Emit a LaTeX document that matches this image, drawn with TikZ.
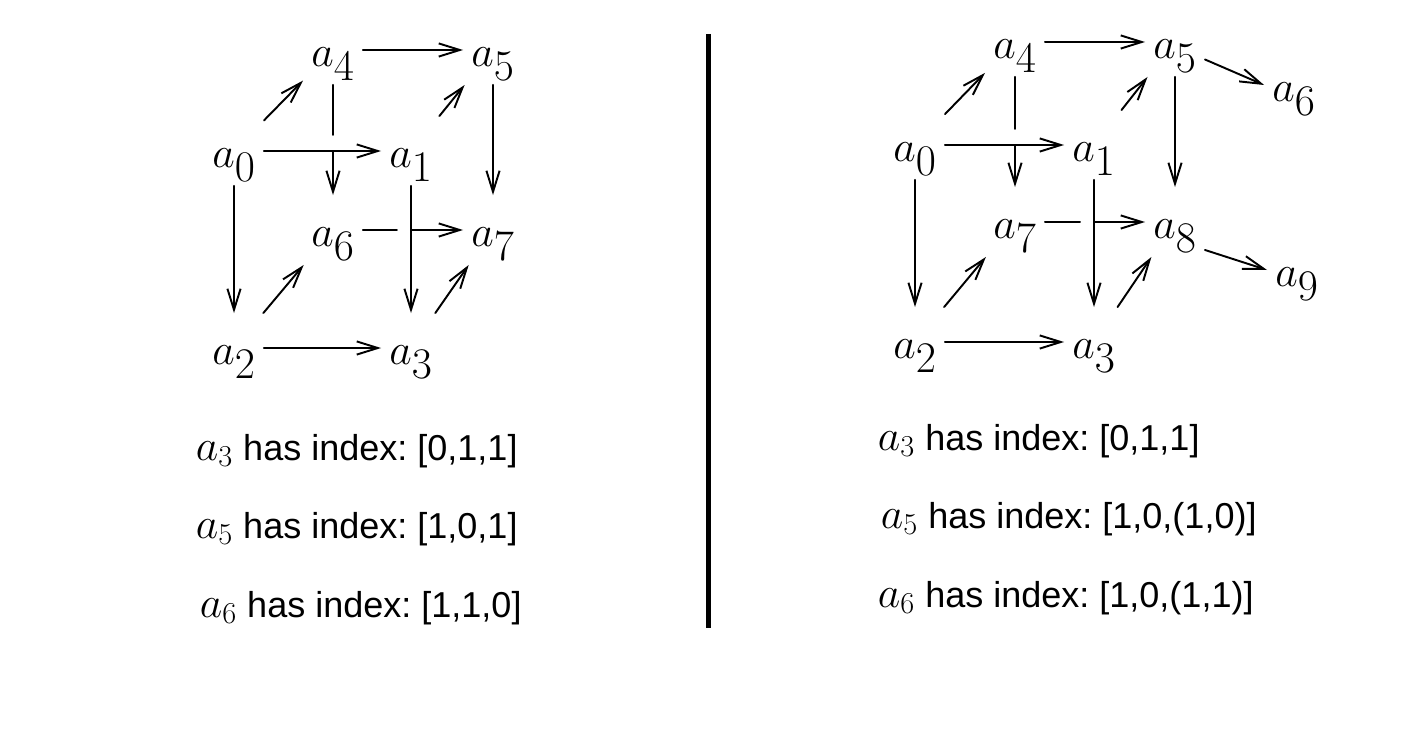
\documentclass[tikz,border=0pt]{standalone}
\usepackage[no-math]{fontspec}
\newfontfamily\arialfont{Liberation Sans}
\usetikzlibrary{arrows.meta,calc}
\newcommand\idxa[1]{{\fontsize{26}{30}\selectfont$a_{#1}$}}
\frenchspacing
\tikzset{
	vert/.style={inner sep=0pt, minimum width=1.16cm, minimum height=1.36cm, text height=23.3pt, text depth=4pt, font=\fontsize{34}{40}\selectfont},
	arr/.style={-{Straight Barb[length=12pt,width=7.5pt]}},
	idx/.style={anchor=base west, inner sep=0pt, font=\fontsize{20.5}{25}\selectfont\arialfont}
}
\begin{document}
\begin{tikzpicture}[x=0.02cm, y=-0.02cm, line join=round, line cap=round, line width=1.1pt]
	\useasboundingbox (0,0) rectangle (1402,753);
	% left cube
	\foreach \n/\x/\y in {0/234/151,1/411/151,2/234/348,3/411/348,4/333/50,5/493/50,6/333/230,7/493/230}{\node[vert] (l\n) at (\x,\y) {$a_\n$};}
	\coordinate (l46) at (l4 |- l0);
	\coordinate (l67) at (l1 |- l6);
	\draw[arr] (l0)--(l1);
	\draw[arr] (l0)--(l2);
	\draw[arr] (l2)--(l3);
	\draw[arr] (l1)--(l3);
	\draw[arr] (l0)--(l4);
	\draw[arr] (l4)--(l5);
	\draw[arr] (l1)--(l5);
	\draw[arr] (l5)--(l7);
	\draw[arr] (l2)--(l6);
	\draw[arr] (l3)--(l7);
	\draw (l4)--($(l46)+(0,-16)$);
	\draw[arr] (l46)--(l6);
	\draw (l6)--($(l67)+(-14,0)$);
	\draw[arr] (l67)--(l7);
	% right cube
	\foreach \n/\x/\y in {0/915/145,1/1094/145,2/915/342,3/1094/342,4/1015/42,5/1175/42,6/1294/85,7/1015/222,8/1175/222,9/1297/270}{\node[vert] (r\n) at (\x,\y) {$a_\n$};}
	\coordinate (r47) at (r4 |- r0);
	\coordinate (r78) at (r1 |- r7);
	\draw[arr] (r0)--(r1);
	\draw[arr] (r0)--(r2);
	\draw[arr] (r2)--(r3);
	\draw[arr] (r1)--(r3);
	\draw[arr] (r0)--(r4);
	\draw[arr] (r4)--(r5);
	\draw[arr] (r1)--(r5);
	\draw[arr] (r5)--(r8);
	\draw[arr] (r2)--(r7);
	\draw[arr] (r3)--(r8);
	\draw (r4)--($(r47)+(0,-16)$);
	\draw[arr] (r47)--(r7);
	\draw (r7)--($(r78)+(-14,0)$);
	\draw[arr] (r78)--(r8);
	\draw[arr] ($(r5.east)!.5!(r5.south east)$)--(r6.west);
	\draw[arr] ($(r8.east)!.8!(r8.south east)$)--(r9.west);
	% divider
	\coordinate (top) at (708.5,34);
	\coordinate (bot) at (708.5,628);
	\draw[line width=2.8pt, line cap=butt] (top)--(bot);
	% indices
	\node[idx] (li3) at (195,460) {\idxa{3} has index: [0,1,1]};
	\node[idx] (li5) at (195,538) {\idxa{5} has index: [1,0,1]};
	\node[idx] (li6) at (199,617) {\idxa{6} has index: [1,1,0]};
	\node[idx] (ri3) at (877,450) {\idxa{3} has index: [0,1,1]};
	\node[idx] (ri5) at (880,528) {\idxa{5} has index: [1,0,(1,0)]};
	\node[idx] (ri6) at (877,607) {\idxa{6} has index: [1,0,(1,1)]};
\end{tikzpicture}
\end{document}
